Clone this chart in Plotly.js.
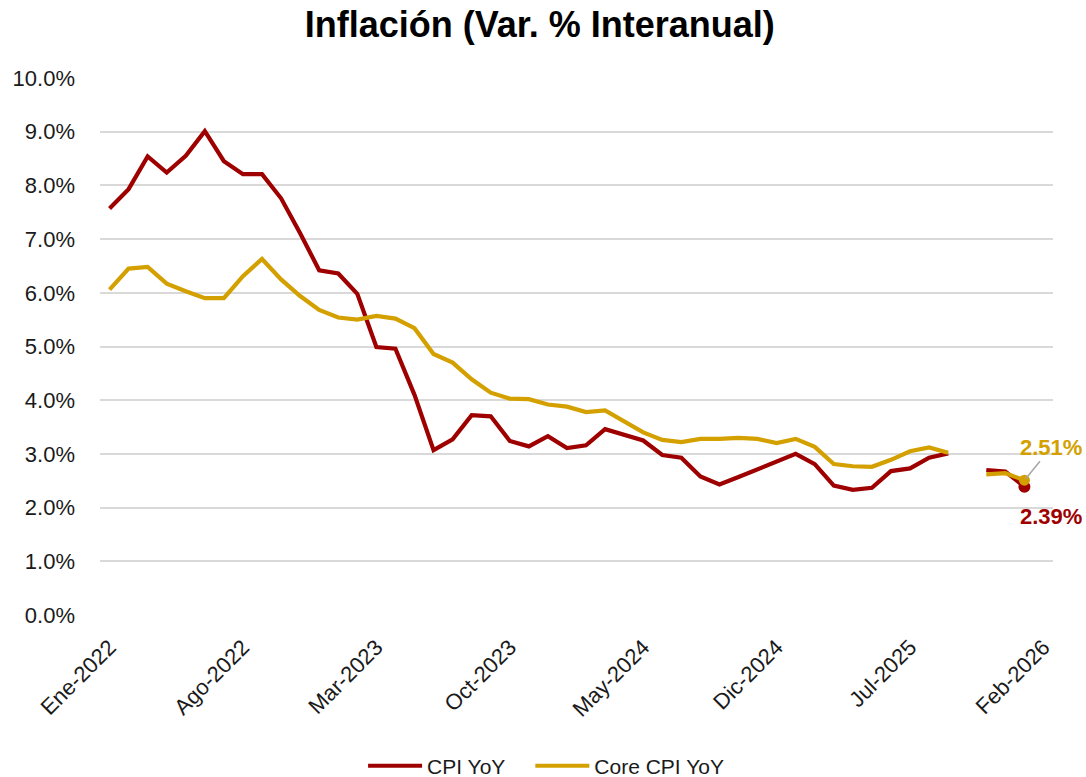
<!DOCTYPE html>
<html>
<head>
<meta charset="utf-8">
<script src="https://cdn.plot.ly/plotly-3.0.1.min.js"></script>
<style>html,body{margin:0;padding:0;background:#fff;}#chart{width:1086px;height:777px;}</style>
</head>
<body>
<div id="chart"></div>
<script>
// Categories: monthly, Ene-2022 .. Feb-2026
const monthNames = ["Ene","Feb","Mar","Abr","May","Jun","Jul","Ago","Sep","Oct","Nov","Dic"];
const years = [2022, 2023, 2024, 2025, 2026];
const months = [];
years.forEach(y => monthNames.forEach((m, i) => { if (y < 2026 || i < 2) months.push(m + "-" + y); }));

// CPI YoY (%), null where no data (Oct-2025, Feb-2026)
const cpi = [
  7.57, 7.93, 8.54, 8.24, 8.55, 9.01, 8.45, 8.21, 8.21, 7.76, 7.11, 6.42,
  6.36, 5.98, 4.99, 4.96, 4.10, 3.07, 3.27, 3.72, 3.70, 3.24, 3.14, 3.33,
  3.11, 3.16, 3.46, 3.36, 3.25, 2.98, 2.93, 2.58, 2.43, 2.57, 2.72, 2.87,
  3.00, 2.81, 2.41, 2.33, 2.37, 2.68, 2.73, 2.93, 3.01, null, 2.70, 2.67,
  2.39, null
];
// Core CPI YoY (%)
const core = [
  6.06, 6.45, 6.48, 6.17, 6.03, 5.90, 5.90, 6.31, 6.63, 6.25, 5.94, 5.68,
  5.54, 5.50, 5.57, 5.52, 5.34, 4.86, 4.70, 4.39, 4.14, 4.03, 4.02, 3.92,
  3.88, 3.78, 3.81, 3.61, 3.40, 3.26, 3.22, 3.28, 3.28, 3.30, 3.28, 3.20,
  3.28, 3.13, 2.81, 2.77, 2.76, 2.89, 3.05, 3.12, 3.02, null, 2.62, 2.64,
  2.51, null
];
const tickLabels = ["Ene-2022","Ago-2022","Mar-2023","Oct-2023","May-2024","Dic-2024","Jul-2025","Feb-2026"];
const yTicks = [0,1,2,3,4,5,6,7,8,9,10];

const RED = "#9E0000";
const GOLD = "#D4A000";
const lastIdx = 48;

const traces = [
  {x: months, y: cpi, type: "scatter", mode: "lines", name: "CPI YoY",
   line: {color: RED, width: 4.2}, connectgaps: false},
  {x: months, y: core, type: "scatter", mode: "lines", name: "Core CPI YoY",
   line: {color: GOLD, width: 4.2}, connectgaps: false},
  {x: [months[lastIdx]], y: [cpi[lastIdx]], type: "scatter", mode: "markers", showlegend: false,
   marker: {color: RED, size: 12}, cliponaxis: false, hoverinfo: "skip"},
  {x: [months[lastIdx]], y: [core[lastIdx]], type: "scatter", mode: "markers", showlegend: false,
   marker: {color: GOLD, size: 11}, cliponaxis: false, hoverinfo: "skip"}
];

const fontFam = "Liberation Sans, Arial, sans-serif";
const layout = {
  width: 1086, height: 777,
  paper_bgcolor: "#fff", plot_bgcolor: "#fff",
  margin: {l: 100, r: 33, t: 78, b: 162},
  title: {text: "<b>Inflación (Var. % Interanual)</b>", x: 0.497, xanchor: "center", y: 0.968, yanchor: "middle",
          font: {family: fontFam, size: 36, color: "#000"}},
  font: {family: fontFam, color: "#1a1a1a", size: 21},
  xaxis: {type: "category", categoryorder: "array", categoryarray: months,
          range: [-0.5, months.length - 0.5], automargin: false,
          tickmode: "array", tickvals: tickLabels, ticktext: tickLabels,
          tickangle: -45, showgrid: false, zeroline: false, showline: false, ticks: "",
          tickfont: {family: fontFam, size: 22, color: "#1a1a1a"}, ticklabelstandoff: 14},
  yaxis: {range: [0, 10], tickmode: "array", tickvals: yTicks, automargin: false,
          ticktext: yTicks.map(v => v.toFixed(1) + "%"),
          showgrid: true, gridcolor: "#D9D9D9", gridwidth: 2, zeroline: false, showline: false, ticks: "",
          tickfont: {family: fontFam, size: 22, color: "#1a1a1a"}, ticklabelstandoff: 24},
  showlegend: true,
  legend: {orientation: "h", x: 0.5, xanchor: "center", yref: "container", y: 0.014, yanchor: "middle",
           font: {family: fontFam, size: 21, color: "#1a1a1a"}},
  annotations: [
    {x: months[lastIdx], y: core[lastIdx], xref: "x", yref: "y",
     text: "<b>" + core[lastIdx].toFixed(2) + "%</b>", showarrow: true, arrowhead: 0,
     arrowwidth: 1.5, arrowcolor: "#A6A6A6", ax: 27, ay: -33, standoff: 2,
     font: {family: fontFam, size: 22, color: GOLD}},
    {x: months[lastIdx], y: cpi[lastIdx], xref: "x", yref: "y",
     text: "<b>" + cpi[lastIdx].toFixed(2) + "%</b>", showarrow: false,
     xshift: 27, yshift: -30,
     font: {family: fontFam, size: 22, color: RED}}
  ]
};

function parseT(el) {
  const m = /translate\(\s*([-\d.e]+)[\s,]+([-\d.e]+)\s*\)/.exec(el.getAttribute("transform") || "");
  return m ? [parseFloat(m[1]), parseFloat(m[2])] : [0, 0];
}

Plotly.newPlot("chart", traces, layout, {displayModeBar: false, staticPlot: true}).then(gd => {
  // Widen legend line samples and spacing (Excel-style legend)
  try {
    const leg = gd.querySelector("g.legend");
    if (!leg) return;
    const sb = leg.querySelector(".scrollbox");
    if (sb) sb.removeAttribute("clip-path");
    leg.removeAttribute("clip-path");
    const L = parseT(leg);
    const S = sb ? parseT(sb) : [0, 0];
    const items = Array.from(leg.querySelectorAll("g.traces"));
    const lineLen = 54, gapText = 5, gapItem = 30;
    const widths = items.map(g => {
      const t = g.querySelector("text.legendtext");
      return t ? t.getComputedTextLength() : 0;
    });
    let total = 0;
    widths.forEach((w, i) => { total += lineLen + gapText + w + (i ? gapItem : 0); });
    let x = gd._fullLayout.width / 2 + 3 - total / 2;
    items.forEach((g, i) => {
      const p = g.querySelector(".legendlines path");
      if (p) p.setAttribute("d", "M" + (35 - lineLen) + ",0h" + lineLen);
      const origin = x + lineLen - 35;
      const T = parseT(g);
      g.setAttribute("transform", "translate(" + (origin - L[0] - S[0]) + "," + T[1] + ")");
      x += lineLen + gapText + widths[i] + gapItem;
    });
  } catch (e) {}
});
</script>
</body>
</html>
